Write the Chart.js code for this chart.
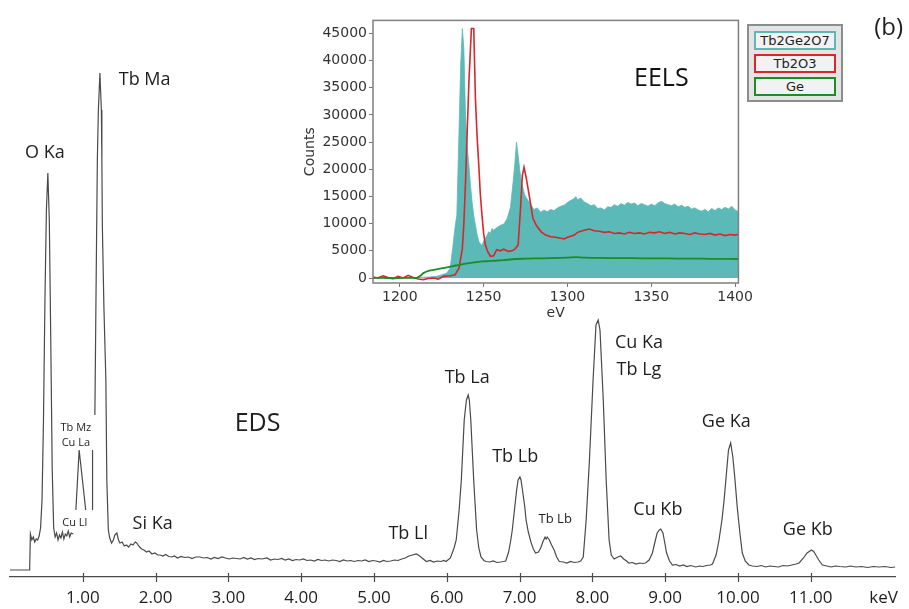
<!DOCTYPE html>
<html lang="en">
<head>
<meta charset="UTF-8">
<title>EDS and EELS spectra</title>
<script src="https://cdn.jsdelivr.net/npm/chart.js"></script>
<style>
    body { margin: 0; background: #fff; }
    .wrap { position: relative; width: 909px; height: 609px; overflow: hidden; }
    #edsChart { position: absolute; left: 0; top: 0; }
    #eelsChart { position: absolute; left: 290px; top: 10px; }

    /* EELS legend box */
    .legend {
        position: absolute; left: 747px; top: 24px;
        width: 82px; padding: 5px 5px 4px 5px;
        background: #e4e4e4; border: 2px solid #8c8c8c;
        display: flex; flex-direction: column; gap: 4px;
        font-family: "DejaVu Sans", sans-serif; font-size: 13px; color: #222;
    }
    .legend div {
        height: 15px; line-height: 15px; text-align: center;
        background: #f2f2f2; border: 2px solid;
    }
</style>
</head>
<body>
<div class="wrap">
    <canvas id="edsChart" width="909" height="609"></canvas>
    <canvas id="eelsChart" width="465" height="320"></canvas>
    <div class="legend" id="eelsLegend"></div>
</div>

<script>
// ---- EDS spectrum (keV / counts), null = break in the trace ----
const edsEnergy = [
    0.00, 0.27, 0.28, 0.30, 0.32, 0.34, 0.36, 0.38, 0.40, 0.42, 0.44, 0.46, 0.48, 0.50, 0.52, 0.54, 0.56, 0.58,
    0.60, 0.62, 0.64, 0.66, 0.68, 0.70, 0.72, 0.74, 0.76, 0.78, 0.80, 0.82, 0.84, 0.87,
    0.88, 0.905, 0.95, 1.04, 1.09, 1.134, 1.134, 1.15,
    1.166, 1.18, 1.20, 1.214, 1.235, 1.255, 1.262, 1.269, 1.29, 1.317, 1.33, 1.351, 1.37, 1.395, 1.42, 1.44,
    1.468, 1.49, 1.51, 1.54, 1.57, 1.60, 1.63, 1.66, 1.69, 1.72, 1.74, 1.76, 1.78, 1.81, 1.84, 1.875, 1.91,
    1.95, 1.99, 2.03, 2.06, 2.10, 2.14, 2.18, 2.22, 2.26, 2.30, 2.35, 2.40, 2.45, 2.50, 2.55, 2.61, 2.66,
    2.71, 2.76, 2.81, 2.86, 2.91, 2.96, 3.01, 3.06, 3.11, 3.16, 3.21, 3.26, 3.31, 3.36, 3.41, 3.46, 3.53,
    3.58, 3.63, 3.68, 3.73, 3.78, 3.83, 3.88, 3.93, 3.98, 4.03, 4.08, 4.13, 4.18, 4.23, 4.28, 4.33, 4.38,
    4.43, 4.48, 4.53, 4.58, 4.63, 4.68, 4.73, 4.78, 4.83, 4.88, 4.93, 4.98, 5.03, 5.08, 5.13, 5.18, 5.23,
    5.28, 5.33, 5.38, 5.43, 5.48, 5.53, 5.58, 5.62, 5.66, 5.72, 5.77, 5.82, 5.87, 5.92, 5.96, 5.99,
    6.05, 6.10, 6.13, 6.17, 6.20, 6.24, 6.27, 6.295, 6.31, 6.33, 6.37, 6.41, 6.44, 6.47, 6.51, 6.54, 6.59,
    6.64, 6.69, 6.74, 6.78, 6.81, 6.85, 6.88, 6.90, 6.93, 6.96, 6.98, 7.005, 7.02, 7.04, 7.07, 7.09, 7.12,
    7.16, 7.19, 7.22, 7.26, 7.29, 7.32, 7.35, 7.365, 7.38, 7.41, 7.44, 7.475, 7.51, 7.545, 7.60, 7.65, 7.70,
    7.75, 7.80, 7.84, 7.875, 7.915, 7.96, 8.01, 8.05, 8.08, 8.105, 8.15, 8.19, 8.23, 8.26, 8.30, 8.35, 8.39,
    8.43, 8.47, 8.50, 8.55, 8.60, 8.65, 8.69, 8.73, 8.78, 8.825, 8.86, 8.89, 8.92, 8.94, 8.97, 9.00, 9.02,
    9.06, 9.10, 9.15, 9.20, 9.25, 9.30, 9.35, 9.42, 9.47, 9.52, 9.57, 9.62, 9.65, 9.70, 9.74, 9.78, 9.81,
    9.84, 9.87, 9.90, 9.93, 9.96, 9.99, 10.03, 10.06, 10.10, 10.15, 10.20, 10.26, 10.32, 10.38, 10.44,
    10.50, 10.56, 10.62, 10.68, 10.74, 10.80, 10.84, 10.90, 10.95, 11.01, 11.04, 11.07, 11.11, 11.16,
    11.22, 11.28, 11.34, 11.40, 11.48, 11.55, 11.62, 11.70, 11.78, 11.86, 11.94, 12.02, 12.10, 12.16
];
const edsCounts = [
    0, 0, 360, 300, 330, 280, 310, 300, 340, 420, 700, 1500, 2700, 3600, 3970, 3500, 2300, 1000,
    420, 330, 370, 300, 350, 320, 380, 310, 360, 340, 390, 330, 370, 360,
    null, 600, 1200, 600, null, 600, 1200, null,
    1550, 2630, 4100, 4600, 4970, 4600, 4100, 3430, 2630, 1900, 900, 400, 320, 270, 300, 350,
    370, 300, 270, 280, 240, 250, 230, 260, 250, 280, 270, 250, 230, 210, 200, 180, 190,
    160, 170, 150, 150, 140, 155, 135, 130, 140, 120, 135, 125, 130, 115, 130, 130, 120,
    125, 110, 125, 115, 130, 120, 110, 120, 115, 110, 125, 110, 120, 105, 115, 110, 120,
    100, 110, 105, 115, 100, 110, 95, 105, 100, 110, 95, 100, 90, 105, 95, 100, 90,
    100, 95, 85, 100, 90, 95, 85, 95, 90, 100, 85, 95, 90, 80, 95, 85, 90,
    100, 95, 110, 120, 140, 150, 160, 145, 120, 85, 95, 80, 90, 85, 95, 85,
    120, 220, 300, 600, 900, 1500, 1700, 1750, 1700, 1500, 900, 400, 220, 130, 95, 85, 80,
    90, 75, 80, 85, 90, 180, 300, 400, 600, 800, 900, 930, 900, 800, 640, 500, 380,
    270, 210, 170, 180, 220, 280, 330, 310, 330, 300, 250, 200, 130, 85, 80, 70, 85,
    75, 80, 90, 130, 500, 1100, 1900, 2450, 2500, 2400, 1700, 900, 300, 150, 110, 130, 140,
    110, 90, 70, 75, 60, 70, 65, 70, 100, 170, 280, 370, 400, 410, 370, 250, 170,
    90, 50, 55, 40, 50, 35, 45, 30, 40, 35, 45, 50, 60, 150, 300, 500, 700,
    950, 1200, 1270, 1130, 900, 630, 350, 170, 90, 50, 40, 35, 45, 30, 40,
    35, 30, 45, 40, 50, 60, 70, 120, 170, 200, 185, 150, 100, 50,
    40, 30, 40, 35, 30, 40, 30, 35, 25, 35, 30, 35, 25, 30
];
const edsTicks = [1, 2, 3, 4, 5, 6, 7, 8, 9, 10, 11, 12];

// peak labels: text, keV, counts, font size
const edsLabelText = ['O Ka', 'Tb Ma', 'Tb Mz', 'Cu La', 'Cu Ll', 'Si Ka', 'EDS', 'Tb Ll', 'Tb La', 'Tb Lb',
    'Tb Lb', 'Cu Ka', 'Tb Lg', 'Ge Ka', 'Cu Kb', 'Ge Kb', '(b)'];
const edsLabelKeV = [0.48, 1.85, 0.905, 0.905, 0.89, 1.96, 3.40, 5.47, 6.28, 6.94,
    7.49, 8.64, 8.64, 9.84, 8.90, 10.96, 12.07];
const edsLabelCounts = [4170, 4900, 1420, 1270, 470, 460, 1460, 360, 1920, 1130,
    510, 2270, 2000, 1480, 600, 400, 5420];
const edsLabelSize = [18, 18, 11, 11, 11, 18, 25, 18, 18, 18, 13, 18, 18, 18, 18, 18, 24];

// ---- EELS inset (eV / counts) ----
const tb2ge2o7Energy = [
    1184, 1190, 1196, 1200, 1206, 1212, 1218, 1222, 1226, 1228, 1230, 1231.5, 1233, 1234, 1235.3, 1236.3,
    1237.3, 1238.2, 1239.2, 1240.2, 1241.2, 1242.2, 1243.1, 1244.1, 1245.1, 1246.1, 1247.1, 1248, 1249,
    1250, 1251, 1252, 1253, 1254, 1255, 1256, 1258, 1260, 1262, 1264, 1266, 1267.6, 1268.6, 1269.6,
    1270.6, 1271.5, 1272.5, 1274.5, 1276, 1278.4, 1280, 1282, 1284, 1286, 1288, 1290, 1292, 1294, 1296,
    1298, 1300, 1302, 1304, 1305, 1306, 1308, 1310, 1312, 1314, 1316, 1318, 1320, 1322, 1324, 1326,
    1328, 1330, 1332, 1334, 1336, 1338, 1340, 1342, 1344, 1346, 1348, 1350, 1352, 1354, 1356, 1358,
    1360, 1362, 1364, 1366, 1368, 1370, 1372, 1374, 1376, 1378, 1380, 1382, 1384, 1386, 1388, 1390,
    1392, 1394, 1396, 1398, 1400, 1402
];
const tb2ge2o7Counts = [
    0, 50, 0, 80, 30, 100, 200, 300, 700, 900, 1800, 5400, 9500, 11500, 26900, 39100,
    45900, 42200, 29900, 24000, 20800, 17000, 14000, 11500, 9700, 8000, 6700, 6300, 6000,
    6800, 7300, 7800, 8500, 8200, 9100, 8800, 9300, 9700, 9900, 10900, 13000, 17700, 21000, 25000,
    22500, 20000, 17700, 15300, 14500, 13400, 12600, 12900, 12100, 12500, 12200, 12600, 12400, 12900, 13200,
    13400, 13900, 14300, 14600, 15000, 14400, 14700, 14000, 13700, 13300, 13500, 12800, 12900, 12500, 13100, 13000,
    13500, 13200, 13700, 13400, 13900, 13600, 13800, 13300, 13700, 13500, 13200, 13600, 13300, 13800, 14100, 13700,
    13500, 13300, 13600, 13100, 13400, 13000, 13200, 12700, 12900, 12500, 12300, 12600, 12200, 12800, 12400, 12900,
    12600, 13000, 12700, 13200, 12500, 12200
];
const tb2o3Energy = [
    1184, 1187, 1190, 1193, 1196, 1199, 1202, 1205, 1208, 1211, 1214, 1217, 1220, 1223, 1226, 1230, 1233,
    1235.3, 1237.3, 1238.2, 1239.2, 1240.2, 1241.2, 1242.7, 1244.1, 1245.1, 1246.1, 1247.1, 1248, 1249,
    1250, 1251, 1252.5, 1254, 1256, 1257.8, 1260, 1262, 1264.7, 1267, 1268.6, 1270.6, 1272, 1273.1,
    1274.1, 1275.5, 1277.5, 1279.4, 1281.4, 1284.3, 1287, 1290, 1293, 1296, 1298, 1300, 1302, 1304, 1306,
    1308, 1310, 1313, 1316, 1319, 1322, 1325, 1328, 1331, 1334, 1337, 1340, 1343, 1346, 1349, 1352, 1355,
    1358, 1361, 1364, 1367, 1370, 1373, 1376, 1379, 1382, 1385, 1388, 1391, 1394, 1397, 1400, 1402
];
const tb2o3Counts = [
    200, 0, 400, 100, -100, 300, 0, 500, 100, -200, -300, -100, 0, -200, 300, 400, 600,
    1800, 5400, 10000, 17700, 27000, 36000, 45900, 45900, 33000, 26000, 20800, 15500, 11600,
    8200, 6100, 4800, 4000, 4100, 5200, 5000, 5300, 4900, 5000, 5300, 6100, 12800, 18900,
    20400, 18300, 14600, 11000, 9700, 8500, 7900, 7600, 7500, 7300, 7200, 7500, 7700, 7900, 8400,
    8600, 8800, 9000, 8700, 8600, 8400, 8500, 8200, 8300, 8100, 8400, 8200, 8300, 8100, 8400, 8300, 8500,
    8200, 8400, 8100, 8300, 8200, 8000, 8300, 8100, 8000, 8200, 7900, 8100, 7800, 8000, 7900, 8050
];
const geEnergy = [
    1184, 1190, 1196, 1200, 1206, 1210, 1212.7, 1214, 1217.6, 1221, 1225.5, 1229, 1233.3, 1237, 1241.2,
    1245, 1249, 1253, 1257, 1262, 1267, 1272.5, 1280, 1290, 1300, 1305, 1310, 1320, 1330, 1340, 1350,
    1360, 1370, 1380, 1390, 1402
];
const geCounts = [
    0, 50, -50, 0, 50, 0, 500, 900, 1350, 1550, 1800, 2000, 2300, 2500, 2750,
    2900, 3050, 3100, 3170, 3300, 3450, 3540, 3600, 3650, 3750, 3850, 3750, 3700, 3650, 3650, 3600,
    3600, 3550, 3550, 3520, 3500
];
const eelsNames = ['Tb2Ge2O7', 'Tb2O3', 'Ge'];
const eelsColors = ['#5bb9b8', '#d8262a', '#1c8c24'];
const eelsXTicks = [1200, 1250, 1300, 1350, 1400];
const eelsYTicks = [0, 5000, 10000, 15000, 20000, 25000, 30000, 35000, 40000, 45000];

function pairs(xs, ys) {
    return xs.map((x, i) => ({ x: x, y: ys[i] }));
}

// tick marks crossing the EDS axis + peak labels
const edsDecor = {
    id: 'edsDecor',
    afterDraw(chart) {
        const ctx = chart.ctx;
        const xs = chart.scales.x, ys = chart.scales.y;
        const axisY = chart.chartArea.bottom;
        ctx.save();
        ctx.strokeStyle = '#4a4a4a';
        ctx.lineWidth = 1.2;
        edsTicks.slice(0, -1).forEach(v => {
            const px = Math.round(xs.getPixelForValue(v)) + 0.5;
            ctx.beginPath();
            ctx.moveTo(px, axisY - 4);
            ctx.lineTo(px, axisY + 5);
            ctx.stroke();
        });
        ctx.fillStyle = '#1e1e1e';
        ctx.textAlign = 'center';
        ctx.textBaseline = 'middle';
        edsLabelText.forEach((t, i) => {
            ctx.font = edsLabelSize[i] + 'px "Open Sans"';
            ctx.fillText(t, xs.getPixelForValue(edsLabelKeV[i]), ys.getPixelForValue(edsLabelCounts[i]));
        });
        ctx.restore();
    }
};

new Chart(document.getElementById('edsChart'), {
    type: 'line',
    data: {
        datasets: [{
            data: pairs(edsEnergy, edsCounts),
            borderColor: '#4a4a4a',
            borderWidth: 1.2,
            pointRadius: 0,
            tension: 0,
            spanGaps: false
        }]
    },
    options: {
        responsive: false,
        animation: false,
        layout: { padding: { left: 10, right: 12, top: 60, bottom: 0 } },
        plugins: { legend: { display: false }, tooltip: { enabled: false } },
        scales: {
            x: {
                type: 'linear', min: 0, max: 12.17,
                afterBuildTicks: s => { s.ticks = edsTicks.map(v => ({ value: v })); },
                afterFit: s => { s.height = 32; },
                grid: { display: true, drawOnChartArea: false, drawTicks: false },
                border: { display: true, color: '#4a4a4a', width: 1.2 },
                ticks: {
                    maxRotation: 0, autoSkip: false, padding: 11, color: '#1e1e1e',
                    font: { family: 'Open Sans', size: 17 },
                    callback: v => v === 12 ? 'keV' : v.toFixed(2)
                }
            },
            y: { display: false, min: -70, max: 5100 }
        }
    },
    plugins: [edsDecor]
});

// frame around the inset plot + EELS label
const eelsDecor = {
    id: 'eelsDecor',
    afterDraw(chart) {
        const a = chart.chartArea, ctx = chart.ctx;
        ctx.save();
        ctx.strokeStyle = '#7f7f7f';
        ctx.lineWidth = 1.5;
        ctx.strokeRect(a.left, a.top, a.right - a.left, a.bottom - a.top);
        ctx.fillStyle = '#111';
        ctx.font = '25px "Open Sans"';
        ctx.textAlign = 'center';
        ctx.textBaseline = 'middle';
        ctx.fillText('EELS', chart.scales.x.getPixelForValue(1356), chart.scales.y.getPixelForValue(36700));
        ctx.restore();
    }
};

const insetFont = { family: 'DejaVu Sans', size: 14 };
new Chart(document.getElementById('eelsChart'), {
    type: 'line',
    data: {
        datasets: [
            { label: eelsNames[0], data: pairs(tb2ge2o7Energy, tb2ge2o7Counts), order: 3,
              borderColor: eelsColors[0], backgroundColor: eelsColors[0], borderWidth: 0.8,
              fill: 'origin', pointRadius: 0, tension: 0 },
            { label: eelsNames[1], data: pairs(tb2o3Energy, tb2o3Counts), order: 2,
              borderColor: eelsColors[1], borderWidth: 1.6, fill: false, pointRadius: 0, tension: 0 },
            { label: eelsNames[2], data: pairs(geEnergy, geCounts), order: 1,
              borderColor: eelsColors[2], borderWidth: 1.8, fill: false, pointRadius: 0, tension: 0.2 }
        ]
    },
    options: {
        responsive: false,
        animation: false,
        layout: { padding: { left: 0, right: 11, top: 10, bottom: 0 } },
        plugins: { legend: { display: false }, tooltip: { enabled: false } },
        scales: {
            x: {
                type: 'linear', min: 1184, max: 1402,
                afterBuildTicks: s => { s.ticks = eelsXTicks.map(v => ({ value: v })); },
                afterFit: s => { s.height = 47; },
                grid: { drawOnChartArea: false, tickLength: 4, color: '#777' },
                border: { display: false },
                ticks: { maxRotation: 0, autoSkip: false, padding: 2, color: '#333', font: insetFont,
                         callback: v => String(v) },
                title: { display: true, text: 'eV', color: '#333', font: insetFont, padding: { top: 0, bottom: 8 } }
            },
            y: {
                min: -920, max: 47400,
                afterBuildTicks: s => { s.ticks = eelsYTicks.map(v => ({ value: v })); },
                afterFit: s => { s.width = 83; },
                grid: { drawOnChartArea: false, tickLength: 4, color: '#777' },
                border: { display: false },
                ticks: { autoSkip: false, padding: 2, color: '#333', font: insetFont,
                         callback: v => String(v) },
                title: { display: true, text: 'Counts', color: '#333', font: insetFont, padding: { top: 12, bottom: 0 } }
            }
        }
    },
    plugins: [eelsDecor]
});

// legend boxes built from the series names
const legendBox = document.getElementById('eelsLegend');
eelsNames.forEach((name, i) => {
    const item = document.createElement('div');
    item.textContent = name;
    item.style.borderColor = eelsColors[i];
    legendBox.appendChild(item);
});
</script>
</body>
</html>
